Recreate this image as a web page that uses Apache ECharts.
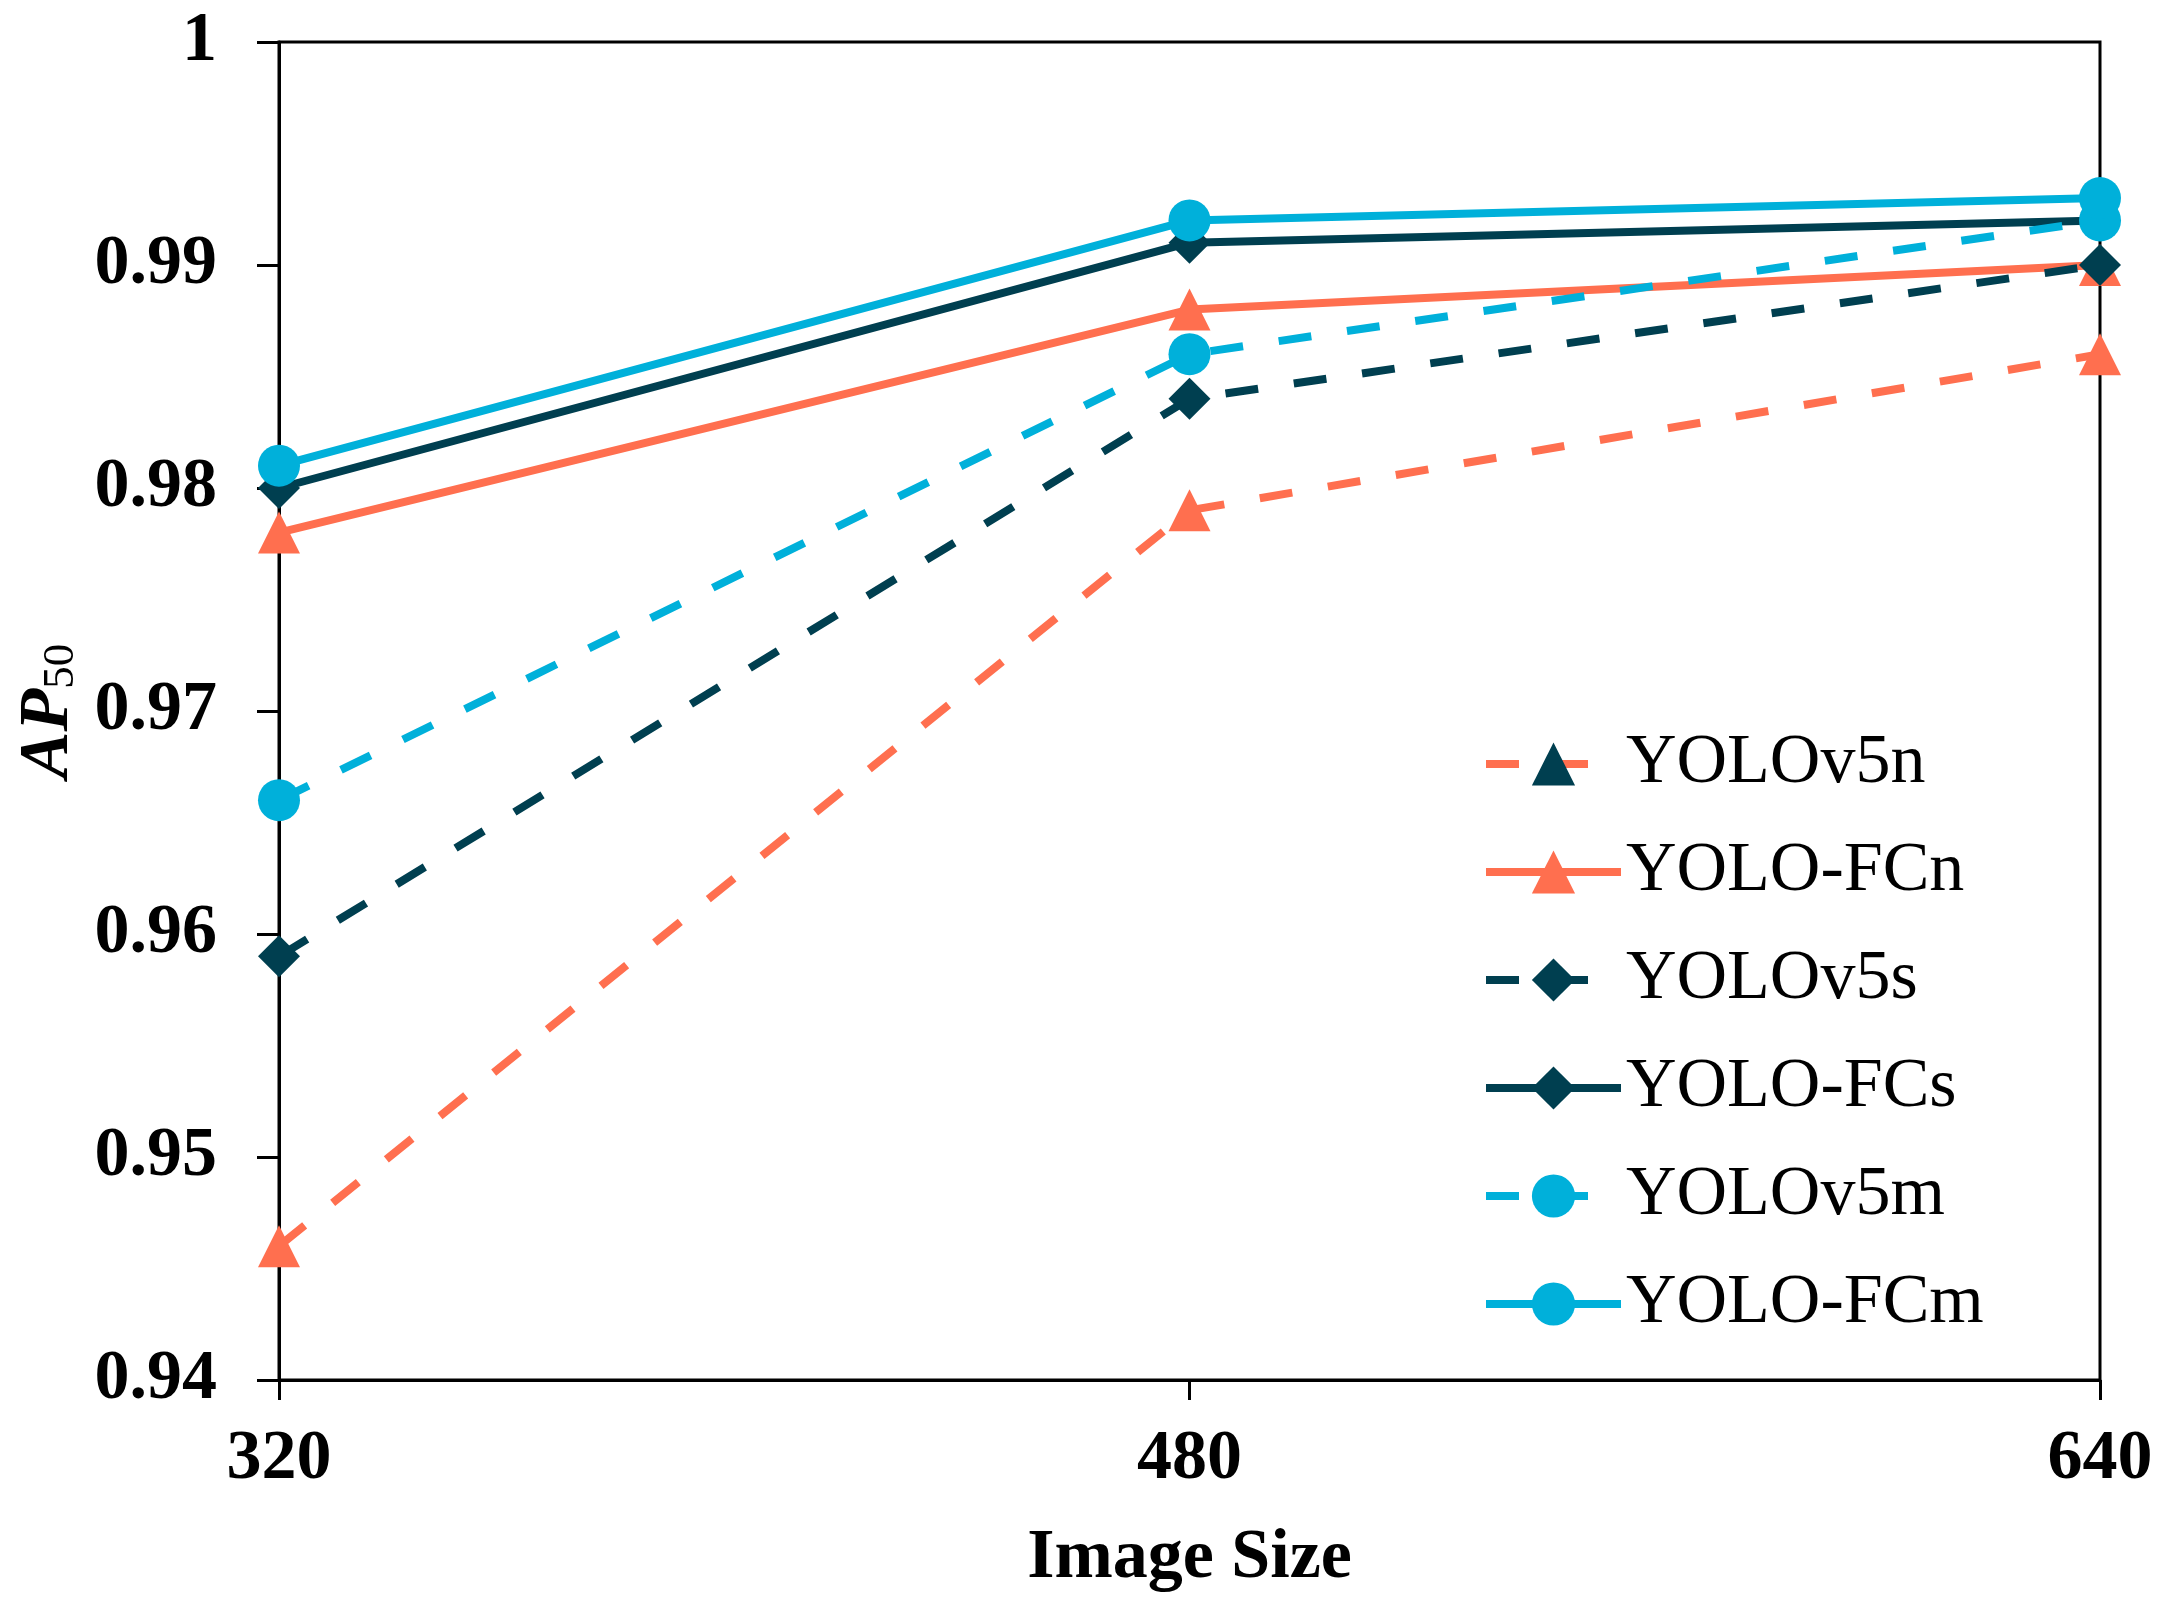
<!DOCTYPE html>
<html>
<head>
<meta charset="utf-8">
<script src="https://cdn.jsdelivr.net/npm/echarts@6/dist/echarts.min.js"></script>
<style>
html,body{margin:0;padding:0;background:#fff;}
#chart{width:2169px;height:1618px;}
</style>
</head>
<body>
<div id="chart"></div>
<script>
const categories = ['320', '480', '640'];
const seriesNames = ['YOLOv5n', 'YOLO-FCn', 'YOLOv5s', 'YOLO-FCs', 'YOLOv5m', 'YOLO-FCm'];
const yolov5n = [0.946, 0.979, 0.986];
const yoloFCn = [0.978, 0.988, 0.990];
const yolov5s = [0.959, 0.984, 0.990];
const yoloFCs = [0.980, 0.991, 0.992];
const yolov5m = [0.966, 0.986, 0.992];
const yoloFCm = [0.981, 0.992, 0.993];
const yTicks = [0.94, 0.95, 0.96, 0.97, 0.98, 0.99, 1];

const ORANGE = '#FF6F4F';
const DARK = '#003F50';
const BLUE = '#00B0DA';
const FONT = "'Liberation Serif', 'Times New Roman', serif";
const DASH = [33, 36];
const LW = 8;

function mk(name, data, color, symbol, size, dashed) {
  return {
    name: name,
    type: 'line',
    data: data,
    symbol: symbol,
    symbolSize: size,
    showSymbol: true,
    itemStyle: { color: color },
    lineStyle: { color: color, width: LW, type: dashed ? DASH : 'solid' },
    emphasis: { disabled: true },
    animation: false
  };
}

const chart = echarts.init(document.getElementById('chart'));
chart.setOption({
  backgroundColor: '#fff',
  animation: false,
  grid: { left: 279, right: 69, top: 42, bottom: 238, show: true, borderColor: '#000', borderWidth: 3, backgroundColor: 'transparent' },
  legend: {
    orient: 'vertical',
    left: 1477,
    top: 724,
    itemWidth: 135,
    itemHeight: 54,
    itemGap: 38,
    lineStyle: { width: LW },
    textStyle: { fontFamily: FONT, fontSize: 70, color: '#000', lineHeight: 70 },
    data: [
      { name: seriesNames[0], itemStyle: { color: DARK } },
      seriesNames[1], seriesNames[2], seriesNames[3], seriesNames[4], seriesNames[5]
    ]
  },
  xAxis: {
    type: 'category',
    data: categories,
    boundaryGap: false,
    name: 'Image Size',
    nameLocation: 'middle',
    nameGap: 144,
    nameTextStyle: { fontFamily: FONT, fontSize: 70, fontWeight: 'bold', color: '#000' },
    axisLine: { lineStyle: { color: '#000', width: 3 } },
    axisTick: { show: true, inside: false, length: 20, alignWithLabel: true, lineStyle: { color: '#000', width: 3 } },
    axisLabel: { fontFamily: FONT, fontSize: 70, fontWeight: 'bold', color: '#000', margin: 45 },
    splitLine: { show: false }
  },
  yAxis: {
    type: 'value',
    min: yTicks[0],
    max: yTicks[yTicks.length - 1],
    interval: 0.01,
    name: '{a|AP}{b|50}',
    nameLocation: 'middle',
    nameGap: 185,
    nameRotate: 90,
    nameTextStyle: {
      color: '#000',
      rich: {
        a: { fontFamily: FONT, fontSize: 70, fontStyle: 'italic', fontWeight: 'bold', color: '#000', lineHeight: 70 },
        b: { fontFamily: FONT, fontSize: 45, color: '#000', lineHeight: 34, verticalAlign: 'bottom' }
      }
    },
    axisLine: { show: true, lineStyle: { color: '#000', width: 3 } },
    axisTick: { show: true, inside: false, length: 22, lineStyle: { color: '#000', width: 3 } },
    axisLabel: {
      fontFamily: FONT, fontSize: 70, fontWeight: 'bold', color: '#000', margin: 62,
      formatter: function (v) { return String(parseFloat(v.toFixed(2))); }
    },
    splitLine: { show: false }
  },
  series: [
    mk(seriesNames[0], yolov5n, ORANGE, 'triangle', 42, true),
    mk(seriesNames[1], yoloFCn, ORANGE, 'triangle', 42, false),
    mk(seriesNames[2], yolov5s, DARK, 'diamond', 42, true),
    mk(seriesNames[3], yoloFCs, DARK, 'diamond', 42, false),
    mk(seriesNames[4], yolov5m, BLUE, 'circle', 42, true),
    mk(seriesNames[5], yoloFCm, BLUE, 'circle', 42, false)
  ]
});
</script>
</body>
</html>
